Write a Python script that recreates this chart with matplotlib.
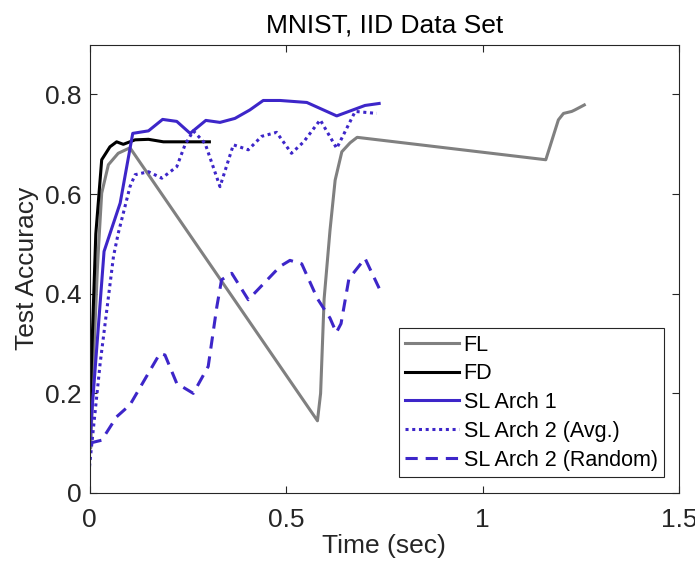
import matplotlib
matplotlib.use("Agg")
import matplotlib.pyplot as plt
from matplotlib.ticker import FuncFormatter

plt.rcParams['font.family'] = ['Liberation Sans', 'DejaVu Sans']

# Test accuracy over wall-clock time for each training scheme
fl_t = [0.0, 0.003, 0.012, 0.020, 0.024, 0.031, 0.048, 0.073, 0.103, 0.580, 0.588,
        0.597, 0.612, 0.625, 0.642, 0.663, 0.681, 1.161, 1.193, 1.206, 1.227, 1.235, 1.259]
fl_acc = [0.10, 0.09, 0.30, 0.45, 0.508, 0.602, 0.659, 0.682, 0.693, 0.145, 0.20,
          0.39, 0.528, 0.628, 0.685, 0.703, 0.714, 0.669, 0.749, 0.762, 0.766, 0.769, 0.779]

fd_t = [0.0, 0.016, 0.031, 0.052, 0.069, 0.086, 0.116, 0.150, 0.188, 0.250, 0.305]
fd_acc = [0.147, 0.52, 0.669, 0.695, 0.705, 0.700, 0.709, 0.710, 0.705, 0.705, 0.705]

sl1_t = [0.0, 0.037, 0.056, 0.078, 0.110, 0.150, 0.186, 0.222, 0.256, 0.296, 0.332,
         0.370, 0.408, 0.442, 0.485, 0.553, 0.629, 0.701, 0.737]
sl1_acc = [0.10, 0.485, 0.530, 0.582, 0.722, 0.727, 0.750, 0.746, 0.722, 0.748, 0.744,
           0.752, 0.769, 0.788, 0.788, 0.784, 0.757, 0.778, 0.782]

sl2avg_t = [0.0, 0.006, 0.027, 0.061, 0.073, 0.103, 0.116, 0.150, 0.184, 0.222, 0.243,
            0.264, 0.294, 0.332, 0.366, 0.404, 0.438, 0.476, 0.514, 0.545, 0.587,
            0.629, 0.676, 0.731]
sl2avg_acc = [0.053, 0.10, 0.26, 0.475, 0.521, 0.615, 0.639, 0.645, 0.632, 0.655, 0.699,
              0.727, 0.702, 0.615, 0.699, 0.689, 0.716, 0.724, 0.682, 0.705, 0.749,
              0.692, 0.766, 0.762]

sl2rnd_t = [0.0, 0.031, 0.069, 0.103, 0.179, 0.192, 0.222, 0.264, 0.302, 0.324, 0.336,
            0.362, 0.404, 0.485, 0.510, 0.540, 0.580, 0.612, 0.628, 0.640, 0.660,
            0.701, 0.737]
sl2rnd_acc = [0.10, 0.106, 0.153, 0.177, 0.280, 0.277, 0.220, 0.200, 0.254, 0.374, 0.428,
              0.441, 0.388, 0.455, 0.467, 0.460, 0.390, 0.351, 0.322, 0.340, 0.430,
              0.471, 0.411]

labels = ['FL', 'FD', 'SL Arch 1', 'SL Arch 2 (Avg.)', 'SL Arch 2 (Random)']
x_ticks = [0, 0.5, 1, 1.5]
y_ticks = [0, 0.2, 0.4, 0.6, 0.8]

GRAY = '#808080'
BLUE = '#3D26C9'
LW = 2.2

fig = plt.figure(figsize=(6.95, 5.70), dpi=100)
ax = fig.add_axes([0.1288, 0.1351, 0.977 - 0.1288, 0.9216 - 0.1351])

ax.plot(fl_t, fl_acc, color=GRAY, lw=LW, label=labels[0])
ax.plot(fd_t, fd_acc, color='black', lw=LW, label=labels[1])
ax.plot(sl1_t, sl1_acc, color=BLUE, lw=LW, label=labels[2])
ax.plot(sl2avg_t, sl2avg_acc, color=BLUE, lw=LW, linestyle=(0, (1, 1.2)), label=labels[3])
ax.plot(sl2rnd_t, sl2rnd_acc, color=BLUE, lw=LW, linestyle=(0, (4, 2.6)), label=labels[4])

ax.set_xlim(0, 1.5)
ax.set_ylim(0, 0.9)
ax.set_xticks(x_ticks)
ax.set_yticks(y_ticks)
fmt = FuncFormatter(lambda v, p: f"{v:g}")
ax.xaxis.set_major_formatter(fmt)
ax.yaxis.set_major_formatter(fmt)

for s in ax.spines.values():
    s.set_color('#262626')
    s.set_linewidth(0.8)
ax.tick_params(direction='in', length=5, width=0.8, color='#262626',
               top=True, right=True, labelsize=19, labelcolor='#262626')
ax.tick_params(axis='x', pad=11)
ax.tick_params(axis='y', pad=6)

ax.set_title('MNIST, IID Data Set', fontsize=19, pad=9, color='black')
ax.set_xlabel('Time (sec)', fontsize=19, labelpad=1, color='#262626')
ax.set_ylabel('Test Accuracy', fontsize=19, labelpad=4, color='#262626')

leg = ax.legend(loc='lower right', bbox_to_anchor=(0.9746, 0.0357), borderaxespad=0,
                fontsize=15.5, handlelength=2.5, handletextpad=0.22, labelspacing=0.36,
                borderpad=0.3, fancybox=False, framealpha=1, edgecolor='#262626')
leg.get_frame().set_linewidth(0.8)

fig.savefig('out.png', dpi=100)
